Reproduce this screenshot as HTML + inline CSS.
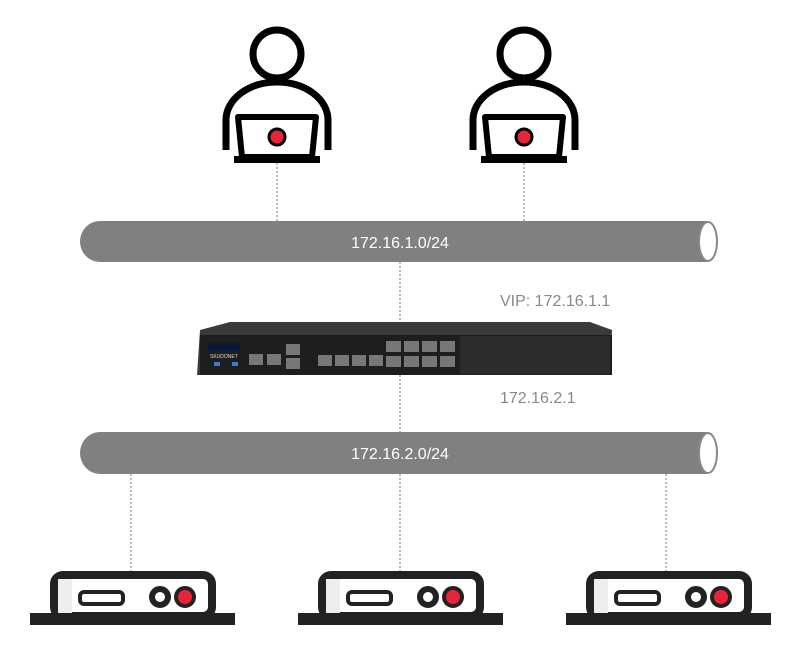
<!DOCTYPE html>
<html><head><style>
body{margin:0;background:#fff;width:800px;height:650px;overflow:hidden;font-family:"Liberation Sans",sans-serif}
</style></head><body>
<svg width="800" height="650" xmlns="http://www.w3.org/2000/svg">
<defs>
<g id="person">
  <path d="M-51,150 L-51,120 A51,38 0 0 1 51,120 L51,150" fill="none" stroke="#000" stroke-width="7"/>
  <circle cx="0" cy="54" r="24" fill="#fff" stroke="#000" stroke-width="7"/>
  <path d="M-39,117 L39,117 L35,157 L-35,157 Z" fill="#fff" stroke="#000" stroke-width="6" stroke-linejoin="round"/>
  <rect x="-43" y="156" width="86" height="7" fill="#000"/>
  <circle cx="0" cy="137" r="8" fill="#e8233a" stroke="#000" stroke-width="3"/>
</g>
<g id="dev">
  <rect x="24" y="575" width="158" height="41" rx="9" fill="#fff" stroke="#222" stroke-width="8"/>
  <rect x="28" y="579" width="14" height="34" fill="#eee"/>
  <rect x="0" y="613" width="205" height="12" fill="#222"/>
  <rect x="50" y="592" width="43" height="12" rx="4" fill="#fff" stroke="#222" stroke-width="4"/>
  <circle cx="130" cy="597" r="8" fill="#fff" stroke="#222" stroke-width="6"/>
  <circle cx="155" cy="597" r="9" fill="#e8233a" stroke="#222" stroke-width="4"/>
</g>
</defs>
<g stroke="#777" stroke-width="1" stroke-dasharray="2,2">
<line x1="277" y1="163" x2="277" y2="221"/>
<line x1="524" y1="163" x2="524" y2="221"/>
<line x1="400" y1="262" x2="400" y2="322"/>
<line x1="400" y1="375" x2="400" y2="432"/>
<line x1="131" y1="474" x2="131" y2="574"/>
<line x1="400" y1="474" x2="400" y2="574"/>
<line x1="666" y1="474" x2="666" y2="574"/>
</g>
<use href="#person" x="277" y="0"/>
<use href="#person" x="524" y="0"/>
<path d="M100,221 L708,221 L708,262 L100,262 A20,20.5 0 0 1 100,221Z" fill="#808080"/>
<ellipse cx="708" cy="241.5" rx="9" ry="19.5" fill="#fff" stroke="#888" stroke-width="2"/>
<path d="M100,432 L708,432 L708,474 L100,474 A20,21 0 0 1 100,432Z" fill="#808080"/>
<ellipse cx="708" cy="453" rx="9" ry="20" fill="#fff" stroke="#888" stroke-width="2"/>
<text x="400" y="248" fill="#fff" font-size="16" text-anchor="middle">172.16.1.0/24</text>
<text x="400" y="459" fill="#fff" font-size="16" text-anchor="middle">172.16.2.0/24</text>
<text x="500" y="306" fill="#888" font-size="16">VIP: 172.16.1.1</text>
<text x="500" y="403" fill="#888" font-size="16">172.16.2.1</text>
<path d="M200,330 L230,322 L590,322 L612,330 L610,375 L197,375 Z" fill="#3a3a3a"/>
<rect x="200" y="335" width="412" height="40" fill="#1e1e1e"/>
<rect x="460" y="336" width="150" height="38" fill="#2c2c2c"/>
<rect x="208" y="343" width="32" height="8" fill="#0a1a3a"/>
<text x="210" y="358" fill="#ddd" font-size="5">SKUDONET</text>
<rect x="214" y="362" width="6" height="4" fill="#3a7bd5"/><rect x="232" y="362" width="6" height="4" fill="#3a7bd5"/>
<g fill="#777">
<rect x="249" y="354" width="14" height="11"/><rect x="267" y="354" width="14" height="11"/>
<rect x="286" y="344" width="14" height="11"/><rect x="286" y="358" width="14" height="11"/>
<rect x="318" y="355" width="14" height="11"/><rect x="335" y="355" width="14" height="11"/><rect x="352" y="355" width="14" height="11"/><rect x="369" y="355" width="14" height="11"/>
<rect x="386" y="341" width="15" height="11"/><rect x="404" y="341" width="15" height="11"/><rect x="422" y="341" width="15" height="11"/><rect x="440" y="341" width="15" height="11"/>
<rect x="386" y="356" width="15" height="11"/><rect x="404" y="356" width="15" height="11"/><rect x="422" y="356" width="15" height="11"/><rect x="440" y="356" width="15" height="11"/>
</g>
<g transform="translate(30,0)"><use href="#dev"/></g>
<g transform="translate(298,0)"><use href="#dev"/></g>
<g transform="translate(566,0)"><use href="#dev"/></g>
</svg>
</body></html>
